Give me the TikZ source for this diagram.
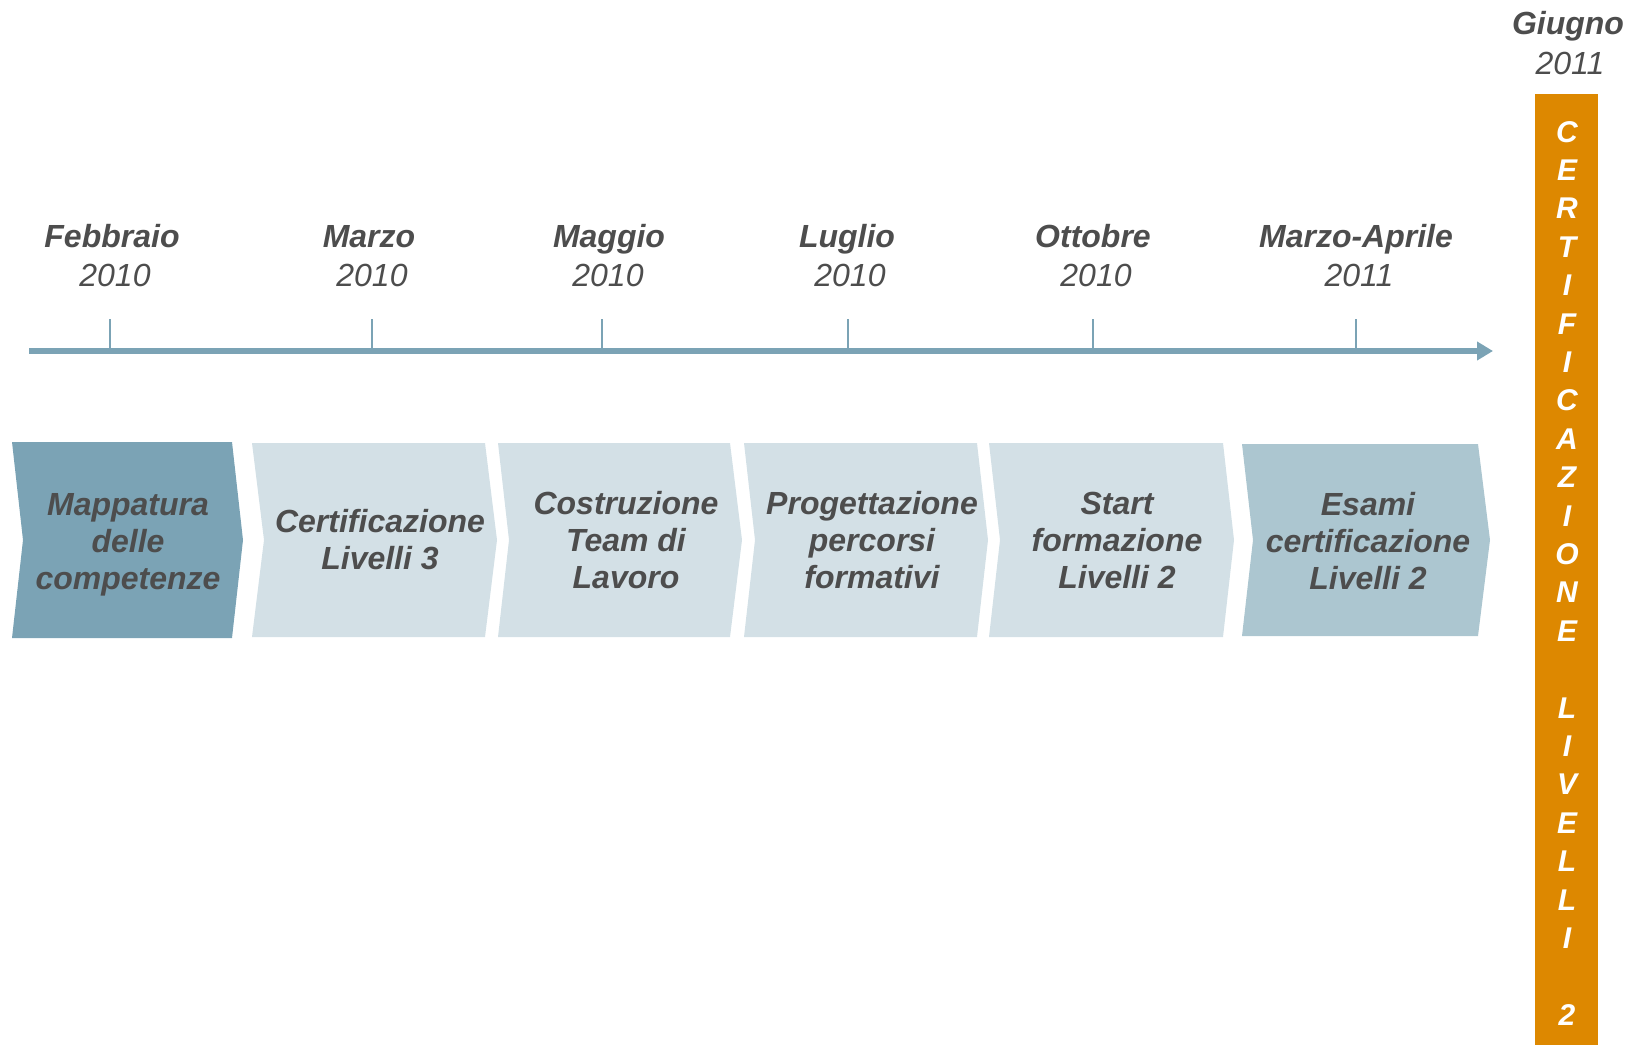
\documentclass[tikz,border=0pt]{standalone}
\usepackage{fontspec}
\setmainfont{Liberation Sans}
\usetikzlibrary{arrows.meta}
\definecolor{tealdark}{RGB}{123,163,181}
\definecolor{teallight}{RGB}{211,224,230}
\definecolor{tealmid}{RGB}{172,198,208}
\definecolor{orangebar}{RGB}{221,136,0}
\definecolor{txtgray}{RGB}{77,77,77}
\newcommand{\mychevron}[8]{% name, colour, left x, notch x, top-right x, point x, top y, bottom y
  \fill[#2] (#3,#7) -- (#5,#7) -- (#6,{(#7+#8)/2}) -- (#5,#8) -- (#3,#8) -- (#4,{(#7+#8)/2}) -- cycle;
  \coordinate (#1) at ({(#4+#6)/2},{(#7+#8)/2});}
\begin{document}
\begin{tikzpicture}[x=0.75pt,y=-0.75pt,
 axis/.style={draw=tealdark, line width=4.5pt},
 tickline/.style={draw=tealdark, line width=1.5pt},
 month/.style={font=\fontsize{24}{28}\selectfont\bfseries\itshape, text=txtgray, inner sep=0pt, text height=0.716em, text depth=0pt},
 year/.style={font=\fontsize{24}{28}\selectfont\itshape, text=txtgray, inner sep=0pt, text height=0.716em, text depth=0pt},
 boxtext/.style={font=\fontsize{24}{27.75}\selectfont\bfseries\itshape, text=txtgray, align=center, inner sep=0pt},
 barletter/.style={font=\fontsize{22.5}{27}\selectfont\bfseries\itshape, text=white, inner sep=0pt, text height=0.716em, text depth=0pt},
]
\useasboundingbox (0,0) rectangle (1639,1045);

% timeline
\coordinate (tl0) at (29,351);
\coordinate (tl1) at (1493,351);
\draw[axis, -{Triangle[length=12pt,width=13.5pt]}] (tl0) -- (tl1);
\foreach \x [count=\i] in {110,372,602,848,1093,1356}{
  \coordinate (tk\i a) at (\x,319);
  \coordinate (tk\i b) at (\x,351);
  \draw[tickline] (tk\i a) -- (tk\i b);
}

% labels
\node[month] (m1) at (112,243) {Febbraio};
\node[year]  (y1) at (115,282) {2010};
\node[month] (m2) at (369,243) {Marzo};
\node[year]  (y2) at (372,282) {2010};
\node[month] (m3) at (609,243) {Maggio};
\node[year]  (y3) at (608,282) {2010};
\node[month] (m4) at (847,243) {Luglio};
\node[year]  (y4) at (850,282) {2010};
\node[month] (m5) at (1093,243) {Ottobre};
\node[year]  (y5) at (1096,282) {2010};
\node[month] (m6) at (1356,243) {Marzo-Aprile};
\node[year]  (y6) at (1359,282) {2011};
\node[month] (m7) at (1568,30) {Giugno};
\node[year]  (y7) at (1570,70) {2011};

% chevrons
\mychevron{c1}{tealdark}{12}{23}{232}{243}{442}{638}
\mychevron{c2}{teallight}{252}{264}{485}{497}{443}{637}
\mychevron{c3}{teallight}{498}{509}{730}{742}{443}{637}
\mychevron{c4}{teallight}{744}{755}{977}{988}{443}{637}
\mychevron{c5}{teallight}{989}{1000}{1223}{1234}{443}{637}
\mychevron{c6}{tealmid}{1242}{1253}{1478}{1490}{444}{636}

\node[boxtext] (t1) at (128,545) {Mappatura\\delle\\competenze};
\node[boxtext] (t2) at (380,540) {Certificazione\\Livelli 3};
\node[boxtext] (t3) at (626,540) {Costruzione\\Team di\\Lavoro};
\node[boxtext] (t4) at (872,540) {Progettazione\\percorsi\\formativi};
\node[boxtext] (t5) at (1117,540) {Start\\formazione\\Livelli 2};
\node[boxtext] (t6) at (1368,541) {Esami\\certificazione\\Livelli 2};

% orange bar
\fill[orangebar] (1535,94) rectangle (1598,1045);
\foreach \l/\i in {C/0,E/1,R/2,T/3,I/4,F/5,I/6,C/7,A/8,Z/9,I/10,O/11,N/12,E/13,L/15,I/16,V/17,E/18,L/19,L/20,I/21,2/23}{
  \node[barletter] (bl\i) at (1567,{137.3+\i*38.4}) {\l};
}
\end{tikzpicture}
\end{document}
